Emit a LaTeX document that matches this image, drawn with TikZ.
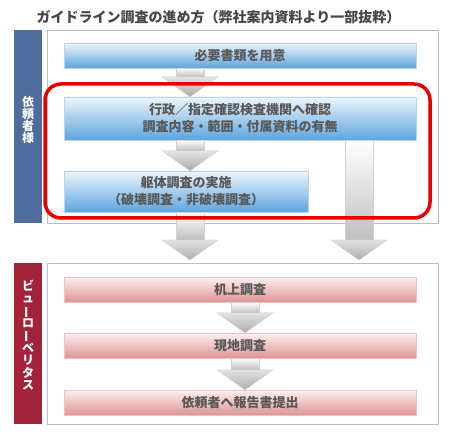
\documentclass[tikz,border=0pt]{standalone}
\usepackage{fontspec}
\usepackage{graphicx}
\newfontfamily\jpfont{Noto Sans CJK JP}
\usetikzlibrary{calc}
\definecolor{bandblue}{RGB}{79,109,156}
\definecolor{bandred}{RGB}{163,36,58}
\definecolor{boxbluetop}{RGB}{238,245,252}
\definecolor{boxbluemid}{RGB}{190,219,242}
\definecolor{boxbluebot}{RGB}{92,165,222}
\definecolor{boxblueedge}{RGB}{185,212,236}
\definecolor{boxredtop}{RGB}{252,240,240}
\definecolor{boxredmid}{RGB}{243,208,208}
\definecolor{boxredbot}{RGB}{224,148,148}
\definecolor{boxrededge}{RGB}{236,196,196}
\definecolor{panelline}{RGB}{190,190,190}
\definecolor{txtgray}{RGB}{88,88,88}
\definecolor{ringred}{RGB}{232,0,0}

% block arrow: #1 x centre, #2 start point, #3 tip point
\newcommand{\blockarrow}[3]{%
  \path[shaftpart] let \p1=(#2), \p2=(#3) in
    ({(#1-14)*1pt},\y1) rectangle ({(#1+14)*1pt},\y2+20pt);
  \path[headpart] let \p2=(#3) in
    ({(#1-28)*1pt},\y2+20pt) -- ({(#1+28)*1pt},\y2+20pt)
    -- ({#1*1pt},\y2) -- cycle;}

\begin{document}
\begin{tikzpicture}[
    x=1pt, y=-1pt,
    panel/.style={draw=panelline, fill=white, minimum width=391pt, inner sep=0pt},
    band/.style={minimum width=28pt, inner sep=0pt},
    bandtext/.style={text=white, align=center, inner sep=0pt,
      font=\jpfont\bfseries\fontsize{12}{12.2}\selectfont},
    flowbox/.style={minimum height=25pt, inner sep=0pt, align=center, text=txtgray,
      font=\jpfont\bfseries\fontsize{13}{17}\selectfont},
    bluebox/.style={flowbox, draw=boxblueedge, top color=boxbluetop,
      middle color=boxbluemid, bottom color=boxbluebot},
    pinkbox/.style={flowbox, draw=boxrededge, top color=boxredtop,
      middle color=boxredmid, bottom color=boxredbot, minimum width=352pt},
    shaftpart/.style={draw=gray!35, top color=white, bottom color=gray!50},
    headpart/.style={draw=gray!40, top color=gray!22, bottom color=gray!65},
    ring/.style={draw=ringred, line width=3.5pt, rounded corners=16pt,
      inner sep=0pt}
]
    \useasboundingbox (0,0) rectangle (458,446);

    % title
    \node[text=txtgray!80!black, font=\jpfont\bfseries\fontsize{14}{14}\selectfont]
      (title) at (218.5,17) {ガイドライン調査の進め方（弊社案内資料より一部抜粋）};

    % client side
    \node[panel, minimum height=193pt] (clientpanel) at (242.5,126.5) {};
    \node[band, fill=bandblue, minimum height=193pt] (clientband) at (28,126.5) {};
    \node[bandtext] (clientlabel) at (28,120) {依\\頼\\者\\様};

    \node[bluebox, minimum width=352pt] (prepare) at (240,55.5) {必要書類を用意};
    \node[bluebox, minimum width=352pt, minimum height=43pt] (confirm) at (240,118.5)
      {行政／指定確認検査機関へ確認\\調査内容・範囲・付属資料の有無};
    \node[bluebox, minimum width=244pt, minimum height=41pt] (survey) at (186,191.5)
      {躯体調査の実施\\（破壊調査・非破壊調査）};

    % Bureau Veritas side
    \node[panel, minimum height=161pt] (bvpanel) at (242.5,343.5) {};
    \node[band, fill=bandred, minimum height=161pt] (bvband) at (28,343.5) {};
    \node[bandtext] (bvlabel) at (28,335)
      {ビ\\ュ\\\rotatebox[origin=c]{90}{ー}\\ロ\\\rotatebox[origin=c]{90}{ー}\\ベ\\リ\\タ\\ス};

    \node[pinkbox] (desk) at (240,289.5) {机上調査};
    \node[pinkbox] (site) at (240,345.5) {現地調査};
    \node[pinkbox] (report) at (240,402.5) {依頼者へ報告書提出};

    % arrow tips above the lower panel
    \coordinate (ltip) at (190,260);
    \coordinate (rtip) at (359,260);

    \blockarrow{190}{prepare.south}{confirm.north}
    \blockarrow{190}{confirm.south}{survey.north}
    \blockarrow{190}{survey.south}{ltip}
    \blockarrow{359}{confirm.south}{rtip}
    \blockarrow{245}{desk.south}{site.north}
    \blockarrow{245}{site.south}{report.north}

    % highlighted part
    \node[ring, minimum width=385pt, minimum height=134pt] (focus) at (237.5,151) {};
\end{tikzpicture}
\end{document}
